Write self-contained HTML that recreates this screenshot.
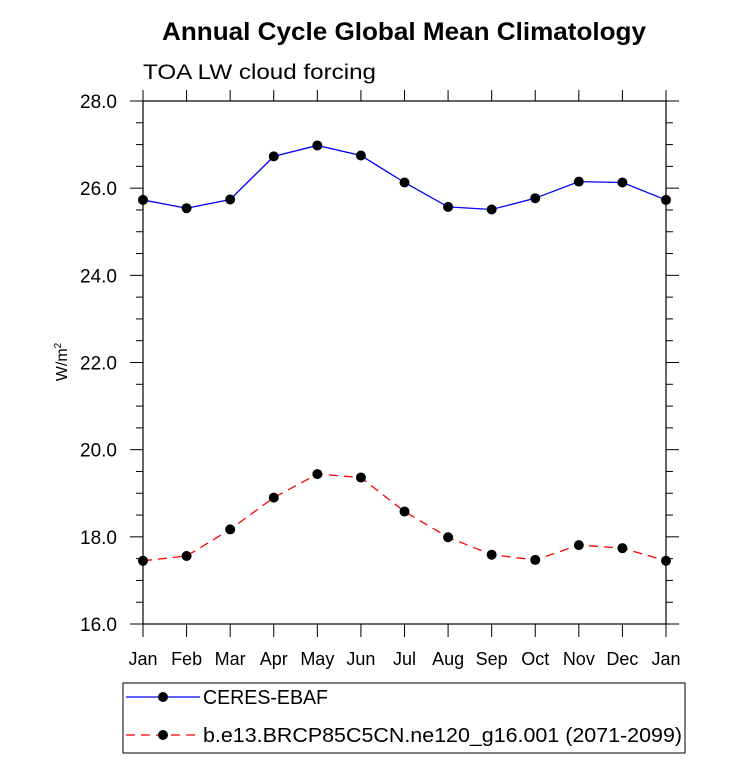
<!DOCTYPE html>
<html><head><meta charset="utf-8"><style>
body{margin:0;background:#fff}
svg text{font-family:"Liberation Sans",sans-serif;fill:#000}
</style></head><body>
<svg width="733" height="759">
<text x="162" y="40" textLength="484" lengthAdjust="spacingAndGlyphs" font-size="25" font-weight="bold">Annual Cycle Global Mean Climatology</text>
<text x="143" y="79" textLength="233" lengthAdjust="spacingAndGlyphs" font-size="21">TOA LW cloud forcing</text>
<text transform="translate(67,362) rotate(-90)" text-anchor="middle" font-size="16">W/m<tspan font-size="10" dy="-6">2</tspan></text>
<g id="axes"></g>
<g id="series"></g>
<rect x="123" y="683" width="562" height="70" fill="none" stroke="#000" stroke-width="1"/>
<g>
<line x1="126" y1="697" x2="200" y2="697" stroke="#00f" stroke-width="1.3"/>
<circle cx="163" cy="697" r="5" fill="#000"/>
<text x="203" y="704" font-size="20" textLength="125" lengthAdjust="spacingAndGlyphs">CERES-EBAF</text></g>
<g>
<line x1="126" y1="735" x2="200" y2="735" stroke="#f00" stroke-width="1.3" stroke-dasharray="9,6"/>
<circle cx="163" cy="735" r="5" fill="#000"/>
<text x="203" y="742" font-size="20" textLength="479" lengthAdjust="spacingAndGlyphs">b.e13.BRCP85C5CN.ne120_g16.001 (2071-2099)</text></g>
</svg>
<script>
const months=["Jan","Feb","Mar","Apr","May","Jun","Jul","Aug","Sep","Oct","Nov","Dec","Jan"];
const ceres=[25.73,25.54,25.74,26.73,26.98,26.75,26.13,25.57,25.51,25.77,26.15,26.13,25.73];
const model=[17.45,17.56,18.17,18.90,19.44,19.36,18.58,17.99,17.59,17.47,17.81,17.74,17.45];
const yTicks=[16,18,20,22,24,26,28];
const yTickLabels=["16.0","18.0","20.0","22.0","24.0","26.0","28.0"];
const L=143,R=666,T=101,B=624,ymin=16,ymax=28;
const xs=i=>L+i*(R-L)/(months.length-1);
const ys=v=>B-(v-ymin)/(ymax-ymin)*(B-T);
const NS="http://www.w3.org/2000/svg";
function mk(p,t,a){const e=document.createElementNS(NS,t);for(const k in a)e.setAttribute(k,a[k]);p.appendChild(e);return e;}
const ax=document.getElementById('axes');
const frame=mk(ax,'rect',{x:L,y:T,width:R-L,height:B-T,fill:'none',stroke:'#000','stroke-width':1.2});


for(let v=ymin;v<=ymax+1e-9;v+=0.5){
  const y=ys(v),maj=Math.abs(v/2-Math.round(v/2))<1e-9,len=maj?13:7;
  mk(ax,'line',{x1:L-len,y1:y,x2:L,y2:y,stroke:'#000','stroke-width':1});
  mk(ax,'line',{x1:R,y1:y,x2:R+len,y2:y,stroke:'#000','stroke-width':1});
}
yTicks.forEach((v,i)=>{const t=mk(ax,'text',{x:L-26,y:ys(v)+7,'text-anchor':'end','font-size':19});t.textContent=yTickLabels[i];

});
months.forEach((m,i)=>{const x=xs(i);
  mk(ax,'line',{x1:x,y1:B,x2:x,y2:B+13,stroke:'#000','stroke-width':1});
  mk(ax,'line',{x1:x,y1:T-11,x2:x,y2:T,stroke:'#000','stroke-width':1});
  const t=mk(ax,'text',{x:x,y:B+41,'text-anchor':'middle','font-size':18});t.textContent=m;
  
  });
const sg=document.getElementById('series');
function series(vals,color,dash,name){
  const g=mk(sg,'g',{});
  
  
  const pl=mk(g,'polyline',{points:vals.map((v,i)=>xs(i)+','+ys(v)).join(' '),fill:'none',stroke:color,'stroke-width':1.3});
  if(dash)pl.setAttribute('stroke-dasharray',dash);
  vals.forEach((v,i)=>{const c=mk(g,'circle',{cx:xs(i),cy:ys(v),r:5,fill:'#000'});
    
    });
}
series(ceres,'#00f',null,'series-ceres');
series(model,'#f00','9,6','series-model');
</script>
</body></html>
